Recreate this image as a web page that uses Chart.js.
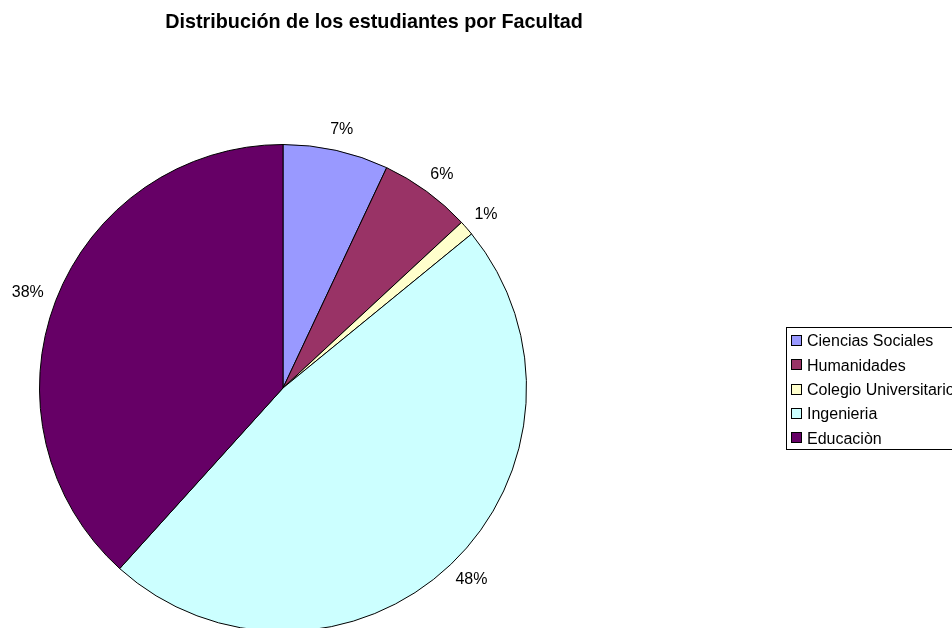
<html>
<head>
<meta charset="utf-8">
<script src="https://cdn.jsdelivr.net/npm/chart.js@4.4.0/dist/chart.umd.min.js"></script>
<style>
  body { margin: 0; overflow: hidden; background: #fff; }
  #wrap { position: absolute; left: 0; top: 0; width: 952px; height: 660px; }
</style>
</head>
<body>
<div id="wrap"><canvas id="myChart" width="952" height="660"></canvas></div>
<script>
var titulo = 'Distribución de los estudiantes por Facultad';
var facultades = ['Ciencias Sociales', 'Humanidades', 'Colegio Universitario', 'Ingenieria', 'Educaciòn'];
var porcentajes = [7.0, 6.1, 1.0, 47.6, 38.3];
var etiquetas = ['7%', '6%', '1%', '48%', '38%'];
var colores = ['#9999FF', '#993366', '#FFFFCC', '#CCFFFF', '#660066'];

var FONT = '"Liberation Sans", Arial, sans-serif';

// title, outside labels and legend box, drawn after the pie
var extras = {
  id: 'extras',
  afterDraw: function (chart) {
    var ctx = chart.ctx;
    ctx.save();
    ctx.fillStyle = '#000';
    ctx.font = 'bold 19.8px ' + FONT;
    ctx.textAlign = 'center';
    ctx.textBaseline = 'alphabetic';
    ctx.fillText(titulo, 374, 28);

    // percentage labels just outside each slice
    ctx.font = '16px ' + FONT;
    ctx.textBaseline = 'middle';
    var meta = chart.getDatasetMeta(0);
    meta.data.forEach(function (arc, i) {
      var p = arc.getProps(['x', 'y', 'startAngle', 'endAngle', 'outerRadius'], true);
      var mid = (p.startAngle + p.endAngle) / 2;
      var w = ctx.measureText(etiquetas[i]).width;
      var h = 14;
      var r = p.outerRadius + 14;
      var x = p.x + Math.cos(mid) * r + Math.cos(mid) * w / 2;
      var y = p.y + Math.sin(mid) * r + Math.sin(mid) * h / 2;
      ctx.fillText(etiquetas[i], x, y);
    });

    // legend
    ctx.strokeStyle = '#000';
    ctx.lineWidth = 1;
    ctx.strokeRect(786.5, 327.5, 200, 122);
    ctx.textAlign = 'left';
    facultades.forEach(function (f, i) {
      var cy = 341 + i * 24.3;
      ctx.fillStyle = colores[i];
      ctx.fillRect(791.5, Math.round(cy) - 5.5, 10, 10);
      ctx.strokeRect(791.5, Math.round(cy) - 5.5, 10, 10);
      ctx.fillStyle = '#000';
      ctx.fillText(f, 807, cy + 1);
    });
    ctx.restore();
  }
};

var ctx = document.getElementById('myChart').getContext('2d');
var chart = new Chart(ctx, {
  type: 'pie',
  data: {
    labels: facultades,
    datasets: [{
      data: porcentajes,
      backgroundColor: colores,
      borderColor: '#000',
      borderWidth: 1
    }]
  },
  options: {
    responsive: false,
    animation: false,
    events: [],
    layout: { padding: { left: 39, top: 144, right: 425, bottom: 28 } },
    plugins: {
      legend: { display: false },
      title: { display: false },
      tooltip: { enabled: false }
    }
  },
  plugins: [extras]
});
</script>
</body>
</html>
